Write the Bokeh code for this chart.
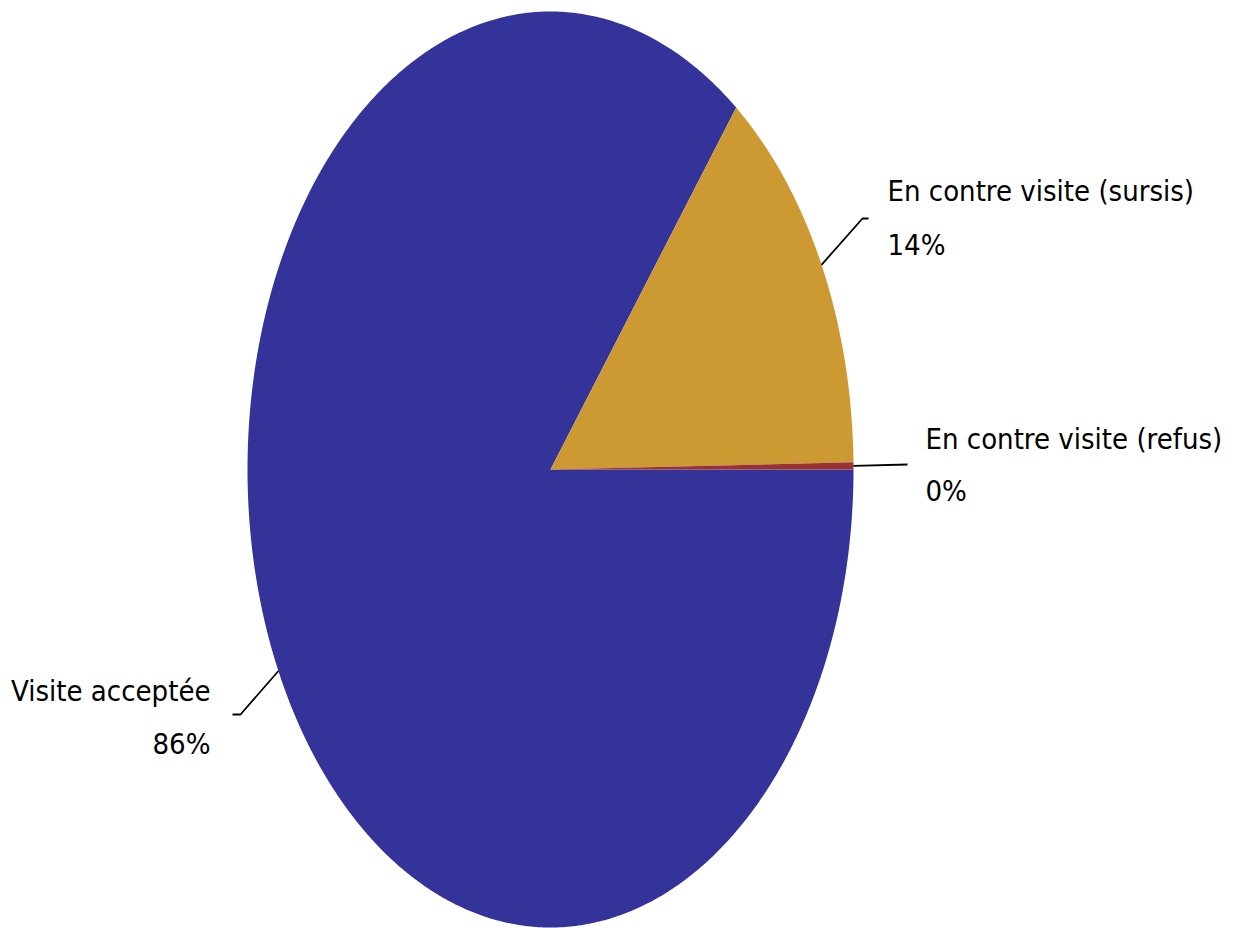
import numpy as np
from bokeh.plotting import figure
from bokeh.models import Range1d, ColumnDataSource
from bokeh.embed import file_html
from bokeh.resources import INLINE
from bokeh.core.properties import value

# ---- data ----
categories = ["Visite acceptée", "En contre visite (sursis)", "En contre visite (refus)"]
values = [85.5, 14.25, 0.25]
colors = ["#333399", "#CC9933", "#993333"]

# ---- layout (picture pixel coordinates) ----
CX, CY, RX, RY = 550, 469, 303, 458
W, H = 1244, 928
FONT = "DejaVu Sans Condensed"
FSIZE = "29px"

# per-label layout: elbow point, stub end, text x, align, baselines
label_layout = [
    dict(elbow=(240, 714), stub=(232, 714), tx=210, align="right", by=(690, 743)),
    dict(elbow=(862, 218), stub=(868, 218), tx=887, align="left", by=(190, 244)),
    dict(elbow=(907, 464), stub=(907, 464), tx=925, align="left", by=(438, 490)),
]

p = figure(width=W, height=H, x_range=Range1d(0, W), y_range=Range1d(H, 0),
           output_backend="svg", toolbar_location=None, min_border=0)
p.axis.visible = False
p.grid.visible = False
p.outline_line_color = None
p.background_fill_color = "white"
p.border_fill_color = "white"

total = float(sum(values))
start = 0.0
xs, ys, mids = [], [], []
for v in values:
    sweep = v / total * 2 * np.pi
    end = start - sweep  # clockwise on screen
    n = max(int(abs(sweep) / (2 * np.pi) * 720), 4)
    t = np.linspace(start, end, n)
    px = np.concatenate([[CX], CX + RX * np.cos(t), [CX]])
    py = np.concatenate([[CY], CY - RY * np.sin(t), [CY]])
    xs.append(list(px))
    ys.append(list(py))
    mids.append((start + end) / 2)
    start = end

p.patches(xs, ys, fill_color=colors, line_color=None, line_width=0)

# leader lines
lx, ly = [], []
for m, lay in zip(mids, label_layout):
    ex = CX + RX * np.cos(m)
    ey = CY - RY * np.sin(m)
    lx.append([ex, lay["elbow"][0], lay["stub"][0]])
    ly.append([ey, lay["elbow"][1], lay["stub"][1]])
p.multi_line(lx, ly, line_color="black", line_width=1.8)

# labels
pcts = [f"{round(v / total * 100):.0f}%" for v in values]
for name, pct, lay in zip(categories, pcts, label_layout):
    src = ColumnDataSource(dict(x=[lay["tx"], lay["tx"]], y=list(lay["by"]), t=[name, pct]))
    p.text(x="x", y="y", text="t", source=src, text_align=lay["align"],
           text_baseline="alphabetic", text_font=value(FONT), text_font_size=FSIZE,
           text_color="black")

open("out.html", "w").write(file_html(p, INLINE))
